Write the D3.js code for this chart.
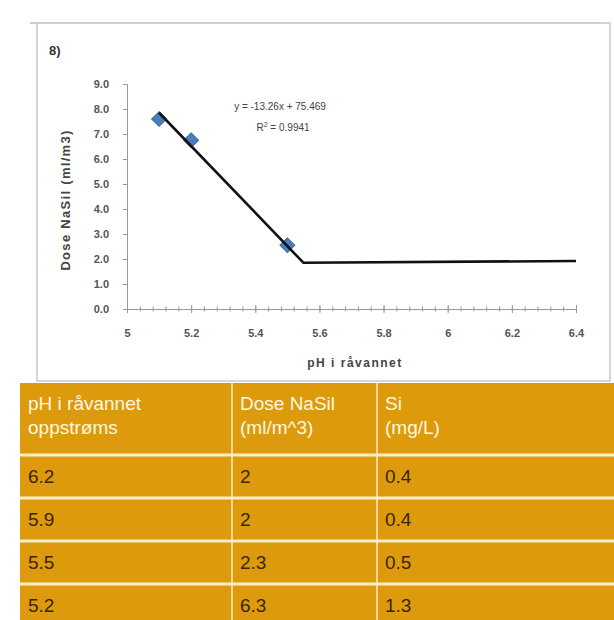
<!DOCTYPE html>
<html>
<head>
<meta charset="utf-8">
<script src="https://cdn.jsdelivr.net/npm/d3@7"></script>
<style>
body { margin:0; background:#fff; }
svg text { font-family: "Liberation Sans", Arial, sans-serif; }
</style>
</head>
<body>
<div id="chart"></div>
<script>
// donnees
let ptX = [5.1, 5.2, 5.5],
    ptY = [7.6, 6.75, 2.55];
let lineX = [5.1, 5.55, 6.4],
    lineY = [7.85, 1.85, 1.92];
let xTicks = [5, 5.2, 5.4, 5.6, 5.8, 6, 6.2, 6.4],
    yTicks = [0, 1, 2, 3, 4, 5, 6, 7, 8, 9];
let tableHead = [["pH i råvannet", "oppstrøms"], ["Dose NaSil", "(ml/m^3)"], ["Si", "(mg/L)"]];
let colPh = ["6.2", "5.9", "5.5", "5.2"],
    colDose = ["2", "2", "2.3", "6.3"],
    colSi = ["0.4", "0.4", "0.5", "1.3"];

let W = 614, H = 620;
let svg = d3.select("#chart").append("svg")
    .attr("width", W).attr("height", H);

// cadre du graphique
svg.append("line").attr("x1", 30).attr("x2", 600).attr("y1", 23).attr("y2", 23)
    .style("stroke", "#bbb").style("stroke-width", 1.5);
svg.append("rect")
    .attr("x", 37).attr("y", 23).attr("width", 573).attr("height", 358)
    .style("fill", "#fff").style("stroke", "#c8c8c8").style("stroke-width", 1.5);

svg.append("text").attr("x", 49).attr("y", 55)
    .style("font-size", "13px").style("font-weight", "bold").style("fill", "#333")
    .text("8)");

let x = d3.scaleLinear().domain([5, 6.4]).range([127, 576]);
let y = d3.scaleLinear().domain([0, 9]).range([309, 84]);

// axe y
let gy = svg.append("g").attr("transform", "translate(127,0)")
    .call(d3.axisLeft(y).tickValues(yTicks).tickFormat(d3.format(".1f")).tickSize(4).tickPadding(14));
gy.selectAll("path, line").style("stroke", "#999");
gy.selectAll("text").style("font-size", "11px").style("fill", "#555").style("font-weight", "bold");

// axe x + petites graduations
let minor = d3.range(0, 36).map(function(i) { return 5 + i * 0.04; });
let gm = svg.append("g").attr("transform", "translate(0,309)")
    .call(d3.axisBottom(x).tickValues(minor).tickFormat("").tickSize(2.5).tickSizeOuter(0));
gm.selectAll("line").attr("y1", -2.5).style("stroke", "#999");
gm.select("path").style("stroke", "#999");
let gx = svg.append("g").attr("transform", "translate(0,309)")
    .call(d3.axisBottom(x).tickValues(xTicks).tickFormat(d3.format("")).tickSize(4).tickSizeOuter(0));
gx.selectAll("line").attr("y1", -4).style("stroke", "#999");
gx.select("path").remove();
gx.selectAll("text").attr("y", 20).style("font-size", "11px").style("fill", "#555").style("font-weight", "bold");

svg.append("text").attr("x", 355).attr("y", 367).style("text-anchor", "middle")
    .style("font-size", "12px").style("font-weight", "bold").style("fill", "#444")
    .style("letter-spacing", "1.5px")
    .text("pH i råvannet");
svg.append("text").attr("transform", "translate(70,200) rotate(-90)")
    .style("text-anchor", "middle").style("font-size", "13px").style("font-weight", "bold").style("fill", "#444")
    .style("letter-spacing", "1.3px")
    .text("Dose NaSil (ml/m3)");

// points
let pts = ptX.map(function(d, i) { return {x: d, y: ptY[i]}; });
svg.selectAll(".pt").data(pts).enter().append("path")
    .attr("class", "pt")
    .attr("d", d3.symbol().type(d3.symbolSquare).size(110))
    .attr("transform", function(d) { return "translate(" + x(d.x) + "," + y(d.y) + ") rotate(45)"; })
    .style("fill", "#4a7ebb").style("stroke", "#3a67a0").style("stroke-width", 1);

// ligne de tendance
let lineData = lineX.map(function(d, i) { return {x: d, y: lineY[i]}; });
svg.append("path").datum(lineData)
    .attr("d", d3.line().x(function(d) { return x(d.x); }).y(function(d) { return y(d.y); }))
    .style("fill", "none").style("stroke", "#111").style("stroke-width", 2.6);

svg.append("text").attr("x", 280).attr("y", 110).style("text-anchor", "middle")
    .style("font-size", "10px").style("fill", "#444").text("y = -13.26x + 75.469");
svg.append("text").attr("x", 283).attr("y", 131).style("text-anchor", "middle")
    .style("font-size", "10px").style("fill", "#444").html("R<tspan dy='-4' font-size='7px'>2</tspan><tspan dy='4'> = 0.9941</tspan>");

// tableau
let colX = [20, 232, 377, 614],
    rowY = [383, 455, 498, 541, 584, 627];
let orange = "#dd9a0c";
svg.append("rect").attr("x", colX[0]).attr("y", rowY[0])
    .attr("width", colX[3] - colX[0]).attr("height", H - rowY[0]).style("fill", orange);
rowY.slice(1, 5).forEach(function(r) {
    svg.append("line").attr("x1", colX[0]).attr("x2", W).attr("y1", r).attr("y2", r)
        .style("stroke", "#fbeec8").style("stroke-width", 3);
});
colX.slice(1, 3).forEach(function(c) {
    svg.append("line").attr("x1", c).attr("x2", c).attr("y1", rowY[0]).attr("y2", H)
        .style("stroke", "#fbeec8").style("stroke-width", 1.5);
});
tableHead.forEach(function(h, i) {
    h.forEach(function(t, j) {
        svg.append("text").attr("x", colX[i] + 8).attr("y", rowY[0] + 27 + j * 24)
            .style("font-size", "19px").style("fill", "#fff8e0").text(t);
    });
});
let cols = [colPh, colDose, colSi];
cols.forEach(function(col, i) {
    col.forEach(function(t, j) {
        svg.append("text").attr("x", colX[i] + 8).attr("y", rowY[j + 1] + 28)
            .style("font-size", "19px").style("fill", "#3a2600").text(t);
    });
});
</script>
</body>
</html>
